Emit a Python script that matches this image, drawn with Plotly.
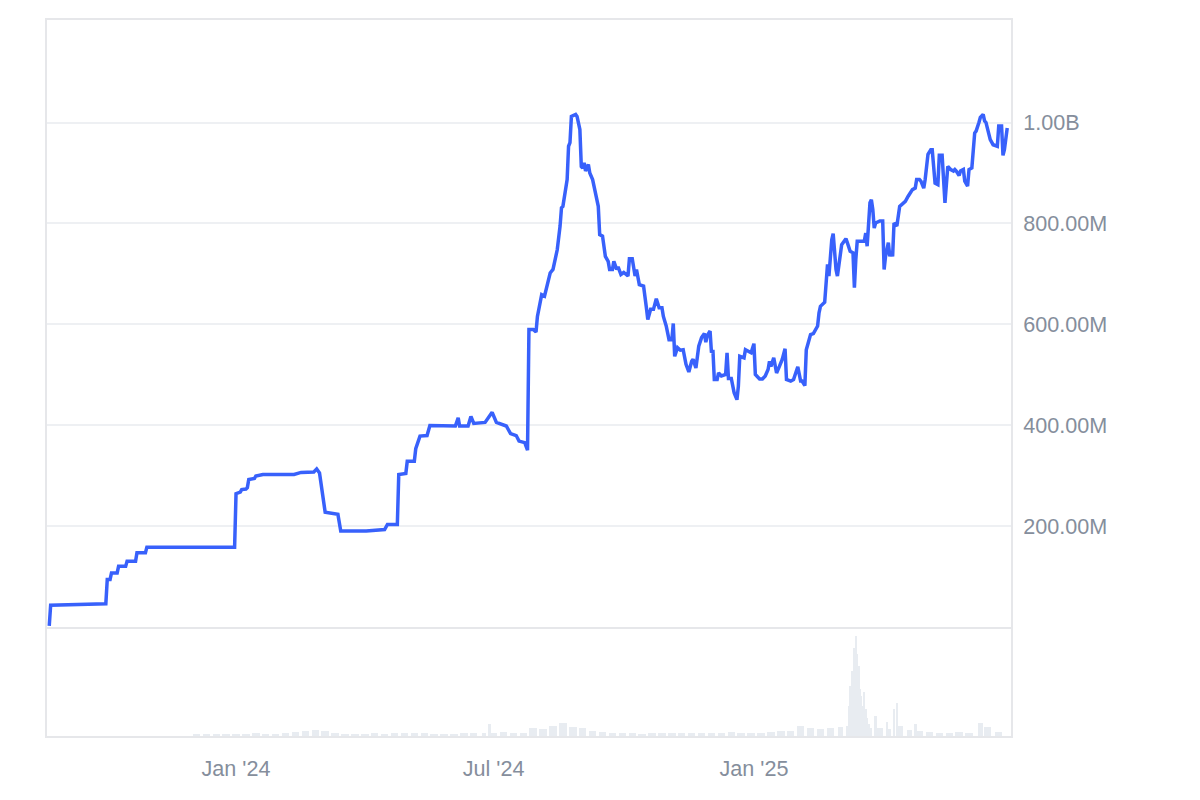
import plotly.graph_objects as go
from plotly.subplots import make_subplots
from datetime import datetime

# ---- main line (values in millions) ----
line_dates = [
    "2023-08-22", "2023-08-23", "2023-10-01", "2023-10-02", "2023-10-04", "2023-10-05", "2023-10-09", "2023-10-10", "2023-10-15", "2023-10-16",
    "2023-10-22", "2023-10-23", "2023-10-29", "2023-10-30", "2023-12-31",
    "2024-01-01", "2024-01-04", "2024-01-05", "2024-01-08", "2024-01-09", "2024-01-10", "2024-01-14", "2024-01-15", "2024-01-20", "2024-02-11",
    "2024-02-16", "2024-02-25", "2024-02-27",
    "2024-02-29", "2024-03-02", "2024-03-04", "2024-03-13", "2024-03-15", "2024-04-02", "2024-04-15", "2024-04-17", "2024-04-24", "2024-04-25",
    "2024-04-30", "2024-05-01", "2024-05-06", "2024-05-07", "2024-05-10", "2024-05-15", "2024-05-17", "2024-06-04", "2024-06-06", "2024-06-07",
    "2024-06-13", "2024-06-15", "2024-06-17", "2024-06-25", "2024-06-30", "2024-07-03", "2024-07-10", "2024-07-13", "2024-07-17", "2024-07-19",
    "2024-07-23", "2024-07-25", "2024-07-26", "2024-07-29", "2024-07-31", "2024-08-01", "2024-08-04", "2024-08-06", "2024-08-10", "2024-08-12",
    "2024-08-15", "2024-08-17", "2024-08-18", "2024-08-19", "2024-08-22", "2024-08-23", "2024-08-24", "2024-08-25", "2024-08-28", "2024-08-29",
    "2024-08-31", "2024-09-01", "2024-09-02", "2024-09-03", "2024-09-04", "2024-09-06", "2024-09-07", "2024-09-09", "2024-09-10", "2024-09-13",
    "2024-09-14", "2024-09-16", "2024-09-18", "2024-09-20", "2024-09-21", "2024-09-23", "2024-09-24", "2024-09-26", "2024-09-27", "2024-09-29",
    "2024-10-01", "2024-10-04", "2024-10-05", "2024-10-07", "2024-10-09", "2024-10-10", "2024-10-12", "2024-10-15", "2024-10-17", "2024-10-18",
    "2024-10-20", "2024-10-22", "2024-10-24", "2024-10-26", "2024-10-28", "2024-10-29", "2024-10-31", "2024-11-02", "2024-11-04", "2024-11-05",
    "2024-11-06", "2024-11-08", "2024-11-10", "2024-11-12", "2024-11-14", "2024-11-16", "2024-11-18", "2024-11-19", "2024-11-21", "2024-11-23",
    "2024-11-25", "2024-11-27", "2024-11-28", "2024-11-29", "2024-12-01", "2024-12-02", "2024-12-03", "2024-12-04", "2024-12-06", "2024-12-07",
    "2024-12-09", "2024-12-12", "2024-12-13", "2024-12-14", "2024-12-16", "2024-12-18", "2024-12-20", "2024-12-21", "2024-12-22", "2024-12-25",
    "2024-12-26", "2024-12-28", "2024-12-30", "2025-01-01", "2025-01-02", "2025-01-05", "2025-01-07", "2025-01-09", "2025-01-11", "2025-01-12",
    "2025-01-13", "2025-01-15", "2025-01-17", "2025-01-19", "2025-01-21", "2025-01-23", "2025-01-24", "2025-01-27", "2025-01-29", "2025-01-31",
    "2025-02-01", "2025-02-03", "2025-02-04", "2025-02-06", "2025-02-07", "2025-02-08", "2025-02-10", "2025-02-12", "2025-02-14", "2025-02-15",
    "2025-02-16", "2025-02-17", "2025-02-20", "2025-02-21", "2025-02-22", "2025-02-23", "2025-02-25", "2025-02-26", "2025-02-28", "2025-03-01",
    "2025-03-03", "2025-03-04", "2025-03-05", "2025-03-07", "2025-03-08", "2025-03-10", "2025-03-12", "2025-03-13", "2025-03-14", "2025-03-15",
    "2025-03-20", "2025-03-21", "2025-03-22", "2025-03-24", "2025-03-25", "2025-03-26", "2025-03-27", "2025-03-28", "2025-03-31", "2025-04-02",
    "2025-04-03", "2025-04-04", "2025-04-06", "2025-04-07", "2025-04-08", "2025-04-09", "2025-04-10", "2025-04-12", "2025-04-14", "2025-04-16",
    "2025-04-18", "2025-04-20", "2025-04-22", "2025-04-23", "2025-04-25", "2025-04-26", "2025-04-28", "2025-04-29", "2025-05-01", "2025-05-02",
    "2025-05-04", "2025-05-06", "2025-05-07", "2025-05-09", "2025-05-11", "2025-05-12", "2025-05-14", "2025-05-15", "2025-05-16", "2025-05-18",
    "2025-05-20", "2025-05-22", "2025-05-23", "2025-05-24", "2025-05-26", "2025-05-27", "2025-05-29", "2025-05-30", "2025-06-01", "2025-06-02",
    "2025-06-04", "2025-06-06", "2025-06-07", "2025-06-09", "2025-06-10", "2025-06-12", "2025-06-13", "2025-06-14", "2025-06-16", "2025-06-17",
    "2025-06-19", "2025-06-21", "2025-06-22", "2025-06-23", "2025-06-25", "2025-06-26", "2025-06-27", "2025-06-29",
]
line_values_m = [
    3, 44, 47, 95, 95, 108, 108, 121, 121, 131,
    131, 148, 148, 159, 159,
    265, 268, 273, 274, 277, 293, 295, 300, 303, 303,
    307, 308, 314,
    306, 267, 228, 224, 191, 191, 194, 204, 204, 303,
    305, 329, 329, 354, 379, 380, 400, 399, 415, 399,
    399, 418, 404, 406, 426, 406, 399, 384, 380, 369,
    366, 351, 590, 590, 585, 616, 659, 656, 702, 709,
    748, 795, 831, 834, 887, 953, 960, 1012, 1016, 1012,
    986, 913, 910, 920, 904, 917, 900, 887, 874, 834,
    778, 775, 735, 725, 709, 709, 725, 709, 714, 699,
    703, 696, 730, 730, 696, 709, 679, 676, 633, 610,
    630, 630, 651, 633, 633, 616, 597, 570, 570, 602,
    537, 554, 549, 550, 521, 506, 527, 531, 514, 557,
    574, 582, 565, 578, 587, 544, 550, 491, 491, 504,
    498, 501, 544, 493, 493, 465, 451, 478, 537, 534,
    550, 547, 544, 562, 501, 492, 492, 498, 511, 527,
    517, 534, 504, 517, 531, 552, 491, 488, 491, 508,
    516, 488, 488, 479, 550, 560, 580, 582, 591, 597,
    623, 636, 644, 689, 719, 696, 768, 780, 709, 696,
    735, 758, 762, 770, 762, 745, 742, 673, 729, 765,
    765, 781, 755, 841, 847, 828, 791, 801, 805, 805,
    709, 735, 762, 735, 745, 735, 801, 795, 834, 838,
    844, 854, 861, 867, 870, 887, 887, 884, 870, 887,
    937, 946, 946, 880, 877, 935, 935, 880, 841, 913,
    907, 904, 907, 904, 895, 904, 907, 884, 874, 907,
    910, 979, 983, 1000, 1010, 1016, 1003, 1000, 973, 966,
    956, 953, 953, 993, 993, 935, 946, 989,
]
assert len(line_dates) == len(line_values_m)

# ---- volume strip (relative units) ----
vol_dates = [
    "2023-12-04", "2023-12-11", "2023-12-18", "2023-12-25",
    "2024-01-01", "2024-01-08", "2024-01-15", "2024-01-22", "2024-01-29",
    "2024-02-05", "2024-02-12", "2024-02-19", "2024-02-26",
    "2024-03-04", "2024-03-11", "2024-03-18", "2024-03-25",
    "2024-04-01", "2024-04-08", "2024-04-15", "2024-04-22", "2024-04-29",
    "2024-05-06", "2024-05-13", "2024-05-20", "2024-05-27",
    "2024-06-03", "2024-06-10", "2024-06-17", "2024-06-24", "2024-06-28",
    "2024-07-01", "2024-07-08", "2024-07-15", "2024-07-22", "2024-07-29",
    "2024-08-05", "2024-08-12", "2024-08-19", "2024-08-26",
    "2024-09-02", "2024-09-09", "2024-09-16", "2024-09-23", "2024-09-30",
    "2024-10-07", "2024-10-14", "2024-10-21", "2024-10-28",
    "2024-11-04", "2024-11-11", "2024-11-18", "2024-11-25",
    "2024-12-02", "2024-12-09", "2024-12-16", "2024-12-23", "2024-12-30",
    "2025-01-06", "2025-01-13", "2025-01-20", "2025-01-27",
    "2025-02-03", "2025-02-10", "2025-02-17", "2025-02-24", "2025-03-03",
    "2025-03-08", "2025-03-09", "2025-03-10", "2025-03-11", "2025-03-12", "2025-03-13",
    "2025-03-14", "2025-03-15", "2025-03-16", "2025-03-17", "2025-03-18", "2025-03-19",
    "2025-03-20", "2025-03-21", "2025-03-22", "2025-03-23", "2025-03-24", "2025-03-28",
    "2025-03-31", "2025-04-05", "2025-04-07", "2025-04-10", "2025-04-12", "2025-04-14",
    "2025-04-21", "2025-04-25", "2025-04-28", "2025-05-05", "2025-05-12", "2025-05-19",
    "2025-05-26", "2025-06-02", "2025-06-09", "2025-06-10", "2025-06-15", "2025-06-23",
]
vol_values = [
    1, 1, 1, 2,
    2, 2, 3, 2, 2,
    3, 4, 5, 6,
    5, 3, 2, 2,
    2, 3, 2, 3, 3,
    3, 3, 2, 2,
    2, 3, 3, 3, 12,
    3, 4, 3, 3, 8,
    7, 10, 13, 9,
    8, 5, 4, 3, 3,
    3, 2, 3, 3,
    3, 3, 3, 3,
    3, 3, 4, 3, 3,
    3, 4, 5, 5,
    10, 8, 7, 8, 9,
    10, 30, 50, 65, 60, 88,
    100, 82, 70, 47, 40, 30,
    44, 27, 18, 12, 8, 20,
    8, 14, 7, 27, 33, 10,
    6, 12, 5, 4, 3, 3,
    4, 3, 4, 13, 9, 4,
]
assert len(vol_dates) == len(vol_values)

y_tickvals = [200e6, 400e6, 600e6, 800e6, 1000e6]
y_ticktext = ["200.00M", "400.00M", "600.00M", "800.00M", "1.00B"]
x_tickvals = ["2024-01-01", "2024-07-01", "2025-01-01"]
x_ticktext = ["Jan '24", "Jul '24", "Jan '25"]

FONT = "Liberation Sans, Arial, sans-serif"
TICK_COLOR = "#858e9c"
FRAME = "#e6e7ea"
GRID = "#eef0f3"
X_RANGE = ["2023-08-20 10:00", "2025-07-01 16:00"]
DAY_MS = 86400000

# bar widths follow spacing of the volume samples
_d = [datetime.fromisoformat(s) for s in vol_dates]
vol_widths = []
for i in range(len(_d)):
    gap = (_d[i + 1] - _d[i]).days if i + 1 < len(_d) else 7
    vol_widths.append(min(gap, 7) * DAY_MS * 0.75)

fig = make_subplots(rows=2, cols=1, shared_xaxes=True, vertical_spacing=0,
                    row_heights=[0.8484, 0.1516])

fig.add_trace(go.Scatter(
    x=line_dates, y=[v * 1e6 for v in line_values_m], mode="lines",
    line=dict(color="#3861fb", width=3.5), hoverinfo="skip"), row=1, col=1)

fig.add_trace(go.Bar(
    x=vol_dates, y=vol_values, marker=dict(color="#e8ecf1", line=dict(width=0)),
    width=vol_widths, hoverinfo="skip"), row=2, col=1)

fig.update_layout(
    width=1200, height=800,
    margin=dict(l=39, r=197, t=10, b=72),
    paper_bgcolor="white", plot_bgcolor="white",
    showlegend=False, bargap=0,
    font=dict(family=FONT, size=21.6, color=TICK_COLOR),
)

fig.update_xaxes(range=X_RANGE, showgrid=False, zeroline=False,
                 showline=True, linecolor=FRAME, linewidth=2, ticks="")
fig.update_xaxes(showticklabels=False, mirror=True, row=1, col=1)
fig.update_xaxes(showticklabels=True, mirror=False, tickvals=x_tickvals, ticktext=x_ticktext,
                 tickfont=dict(size=21.6, color=TICK_COLOR), ticklabelstandoff=12,
                 row=2, col=1)

fig.update_yaxes(side="right", range=[0, 1.203e9], tickvals=y_tickvals, ticktext=y_ticktext,
                 showgrid=True, gridcolor=GRID, gridwidth=1.5, zeroline=False,
                 showline=True, mirror=True, linecolor=FRAME, linewidth=2, ticks="",
                 tickfont=dict(size=21.6, color=TICK_COLOR), ticklabelstandoff=6,
                 row=1, col=1)
fig.update_yaxes(range=[0, 109], showticklabels=False, showgrid=False, zeroline=False,
                 showline=True, mirror=True, linecolor=FRAME, linewidth=2, ticks="",
                 row=2, col=1)

fig.write_html("out.html", config={"displayModeBar": False})
